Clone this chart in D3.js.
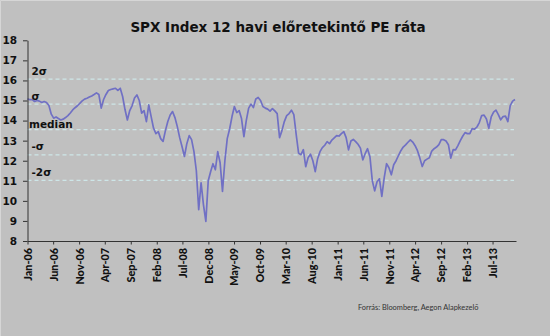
<!DOCTYPE html>
<html>
<head>
<meta charset="utf-8">
<script src="https://cdn.jsdelivr.net/npm/d3@7"></script>
<style>
  html, body { margin: 0; padding: 0; background: #c0c0c0; }
  svg { display: block; }
</style>
</head>
<body>
<svg id="chart" width="550" height="336"></svg>
<script>
// ---- data ----
const title = "SPX Index 12 havi előretekintő PE ráta";
const source = "Forrás: Bloomberg, Aegon Alapkezelő";
const startDate = "2006-01-01";
const stepDays = 14;
const peValues = [
  15.08, 15.04, 15.05, 14.95, 15.0, 14.97, 14.90, 14.95, 14.9, 14.75,
  14.32, 14.12, 14.18, 14.1, 14.03, 14.07, 14.15, 14.25, 14.38, 14.53,
  14.64, 14.74, 14.86, 14.98, 15.07, 15.11, 15.17, 15.23, 15.30, 15.38,
  15.3, 14.62, 15.05, 15.3, 15.5, 15.55, 15.58, 15.61, 15.5, 15.61,
  15.2, 14.55, 14.03, 14.5, 14.75, 15.12, 15.28, 15.0, 14.37, 14.5,
  13.95, 14.78, 14.2, 13.62, 13.35, 13.45, 13.1, 12.96, 13.5, 13.95,
  14.28, 14.45, 14.15, 13.7, 13.15, 12.7, 12.21, 12.85, 13.25, 13.05,
  12.45, 11.5, 9.56, 10.9, 9.8, 8.98, 11.0, 11.45, 11.85, 11.55,
  12.45, 11.9, 10.47, 12.0, 13.1, 13.58, 14.2, 14.7, 14.4, 14.5,
  14.1, 13.2, 14.0, 14.62, 14.82, 14.65, 15.08, 15.15, 15.0, 14.7,
  14.62, 14.57, 14.47, 14.6, 14.48, 14.35, 13.15, 13.5, 13.95, 14.25,
  14.35, 14.52, 14.3, 13.3, 12.38, 12.3, 12.55, 11.7, 12.15, 12.33,
  12.0, 11.46, 12.1, 12.45, 12.65, 12.77, 12.95, 12.85, 13.03, 13.14,
  13.25, 13.23, 13.35, 13.45, 13.15, 12.54, 12.98, 13.06, 12.95, 12.82,
  12.63, 12.04, 12.35, 12.6, 12.2, 11.0, 10.5, 10.95, 11.1, 10.22,
  11.15, 11.85, 11.65, 11.3, 11.8, 12.0, 12.26, 12.5, 12.68, 12.79,
  12.92, 13.04, 12.93, 12.75, 12.5, 12.13, 11.71, 12.0, 12.08, 12.15,
  12.48, 12.6, 12.68, 12.8, 13.05, 13.05, 12.98, 12.8, 12.13, 12.55,
  12.54, 12.75, 13.0, 13.22, 13.4, 13.35, 13.35, 13.6, 13.57, 13.68,
  13.9, 14.25, 14.27, 14.08, 13.62, 14.18, 14.42, 14.52, 14.3, 14.04,
  14.2, 14.22, 13.95, 14.74, 14.97, 15.05
];
const bandLabels = ["2σ", "σ", "median", "-σ", "-2σ"];
const bandValues = [16.07, 14.82, 13.55, 12.29, 11.02];
const yTicks = [8, 9, 10, 11, 12, 13, 14, 15, 16, 17, 18];
const xTickDates = ["2006-01-01","2006-06-01","2006-11-01","2007-04-01","2007-09-01",
  "2008-02-01","2008-07-01","2008-12-01","2009-05-01","2009-10-01","2010-03-01",
  "2010-08-01","2011-01-01","2011-06-01","2011-11-01","2012-04-01","2012-09-01",
  "2013-02-01","2013-07-01"];
const xDomain = ["2006-01-01", "2013-11-16"];

// ---- chart ----
(function () {
const parse = d3.utcParse("%Y-%m-%d");
const fmt = d3.utcFormat("%b-%y");
const start = parse(startDate);
const series = peValues.map((v, i) => ({ date: d3.utcDay.offset(start, i * stepDays), value: v }));

const svg = d3.select("#chart");
const W = 550, H = 336;
const mLeft = 27.5, mRight = 516, mTop = 40.3, mBottom = 241;

svg.append("rect").attr("x", 0).attr("y", 0).attr("width", W).attr("height", H).attr("fill", "#c0c0c0");
svg.append("path").attr("d", `M0.5,${H}V0.5H${W}`).attr("fill", "none").attr("stroke", "#d6d6d6");

const x = d3.scaleUtc().domain(xDomain.map(parse)).range([mLeft, mRight]);
const y = d3.scaleLinear().domain([8, 18]).range([mBottom, mTop]);

// title
svg.append("text").attr("x", 278).attr("y", 32).attr("text-anchor", "middle")
  .attr("font-family", "DejaVu Sans, Verdana, sans-serif").attr("font-weight", "bold")
  .attr("font-size", "13.5px").attr("fill", "#111").text(title);

// band lines
svg.append("g").selectAll("line").data(bandValues).join("line")
  .attr("x1", mLeft).attr("x2", 514)
  .attr("y1", d => y(d)).attr("y2", d => y(d))
  .attr("stroke", "#cde6e8").attr("stroke-width", 1.3).attr("stroke-dasharray", "4,3");

// series
const line = d3.line().x(d => x(d.date)).y(d => y(d.value));
svg.append("path").datum(series).attr("d", line)
  .attr("fill", "none").attr("stroke", "#7070c4").attr("stroke-width", 1.7)
  .attr("stroke-linejoin", "round");

// band labels
svg.append("g").selectAll("text").data(bandLabels).join("text")
  .attr("x", (d, i) => i === 2 ? 29 : 31.5)
  .attr("y", (d, i) => y(bandValues[i]) - (i === 2 ? 2 : 4.5))
  .attr("font-family", "DejaVu Sans, Verdana, sans-serif").attr("font-weight", "bold")
  .attr("font-size", "10.5px").attr("fill", "#111").text(d => d);

// y axis
const yAxis = svg.append("g").attr("transform", `translate(${mLeft},0)`)
  .call(d3.axisLeft(y).tickValues(yTicks).tickSize(4.5).tickSizeOuter(0).tickPadding(6).tickFormat(d3.format("d")));
yAxis.select(".domain").attr("stroke", "#333");
yAxis.selectAll(".tick line").attr("stroke", "#333");
yAxis.selectAll("text").attr("font-family", "DejaVu Sans, Verdana, sans-serif")
  .attr("font-weight", "bold").attr("font-size", "10.5px").attr("fill", "#111");

// x axis
const xAxis = svg.append("g").attr("transform", `translate(0,${mBottom})`)
  .call(d3.axisBottom(x).tickValues(xTickDates.map(parse)).tickSize(3.5).tickSizeOuter(0).tickFormat(fmt));
xAxis.select(".domain").attr("stroke", "#333");
xAxis.selectAll(".tick line").attr("stroke", "#333");
xAxis.selectAll("text")
  .attr("transform", "rotate(-90)")
  .attr("text-anchor", "end")
  .attr("x", -7).attr("y", 0).attr("dy", "0.36em")
  .attr("font-family", "Lato, sans-serif").attr("font-weight", "900")
  .attr("font-size", "10.8px").attr("fill", "#111");

// source
svg.append("text").attr("x", 358).attr("y", 309.5)
  .attr("font-family", "Lato, sans-serif").attr("font-size", "7.4px").attr("fill", "#333").text(source);
})();
</script>
</body>
</html>
